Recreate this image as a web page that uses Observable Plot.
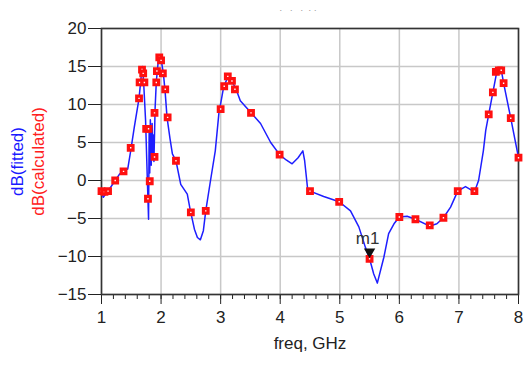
<!DOCTYPE html>
<html><head><meta charset="utf-8">
<script src="https://cdn.jsdelivr.net/npm/d3@7"></script>
<script src="https://cdn.jsdelivr.net/npm/@observablehq/plot@0.6"></script>
<style>body{margin:0;background:#fff;font-family:"Liberation Sans",Arial,sans-serif}</style>
</head><body><div id="chart"></div>
<script>
// fitted curve (blue line)
const fitFreq = [1.00,1.03,1.10,1.23,1.30,1.37,1.44,1.49,1.55,1.63,1.67,1.69,1.71,1.74,1.77,1.79,1.80,1.81,1.82,1.835,1.85,1.86,1.87,1.88,1.90,1.92,1.95,1.98,2.01,2.04,2.07,2.10,2.15,2.19,2.25,2.33,2.44,2.49,2.56,2.61,2.66,2.71,2.75,2.83,2.91,2.97,3.05,3.12,3.16,3.25,3.33,3.51,3.67,3.84,3.99,4.10,4.20,4.30,4.38,4.41,4.44,4.46,4.50,4.73,4.99,5.18,5.32,5.43,5.50,5.57,5.63,5.74,5.82,5.91,6.00,6.13,6.27,6.51,6.63,6.74,6.86,6.98,7.11,7.26,7.33,7.41,7.45,7.50,7.57,7.64,7.71,7.75,7.87,8.00];
const fitDB = [-1.5,-2.2,-1.5,0.0,0.8,1.3,1.5,3.9,7.0,10.8,14.0,15.0,12.5,7.9,0.0,-5.1,6.5,1.0,8.0,2.0,7.5,3.0,6.0,2.5,9.5,13.0,15.5,16.3,15.5,14.0,11.5,8.3,5.5,3.5,2.6,-0.5,-1.8,-3.9,-6.4,-7.5,-7.8,-6.6,-4.0,0.0,3.9,8.8,12.3,13.6,13.4,12.2,10.5,8.9,7.5,5.0,3.4,2.7,2.2,3.0,3.9,2.6,0.4,-1.1,-1.4,-2.1,-2.8,-4.0,-6.1,-8.8,-10.3,-12.3,-13.5,-10.1,-7.0,-5.7,-4.8,-4.7,-5.1,-6.0,-5.7,-4.9,-3.5,-1.4,-0.8,-1.5,0.0,3.9,6.6,8.7,11.6,14.5,14.6,12.8,8.2,3.0];
// calculated samples (red squares)
const calcFreq = [1.00,1.05,1.11,1.23,1.37,1.49,1.63,1.64,1.68,1.70,1.72,1.75,1.79,1.78,1.81,1.89,1.89,1.92,1.93,1.97,2.00,2.03,2.07,2.11,2.25,2.50,2.75,3.00,3.06,3.12,3.19,3.24,3.51,3.99,4.50,4.99,5.50,6.00,6.27,6.51,6.74,6.98,7.26,7.50,7.57,7.62,7.67,7.71,7.75,7.87,8.00];
const calcDB = [-1.4,-1.5,-1.4,0.0,1.2,4.3,10.8,12.9,14.6,14.1,12.9,6.8,6.8,-2.4,-0.1,3.1,8.9,12.9,14.4,16.2,15.8,14.1,12.0,8.3,2.6,-4.2,-4.0,9.4,12.4,13.7,13.1,12.0,8.9,3.4,-1.4,-2.8,-10.3,-4.8,-5.1,-5.9,-4.9,-1.4,-1.4,8.7,11.6,14.3,14.5,14.5,12.8,8.2,3.0];
// marker
const markerName = ["m1"];
const markerFreq = [5.5];
const markerDB = [-10.3];
// axes
const xTicks = [1,2,3,4,5,6,7,8];
const xMinor = d3.range(1, 8.001, 0.2).map(v => +v.toFixed(1));
const yTicks = [-15,-10,-5,0,5,10,15,20];

const fit = fitFreq.map((f,i) => ({f, v: fitDB[i]}));
const calc = calcFreq.map((f,i) => ({f, v: calcDB[i]}));
const markers = markerName.map((n,i) => ({n, f: markerFreq[i], v: markerDB[i]}));

const font = '"Liberation Sans", Arial, sans-serif';
const chart = Plot.plot({
  width: 524, height: 365,
  marginLeft: 101, marginRight: 6, marginTop: 28, marginBottom: 71,
  style: {fontFamily: font, fontSize: "17px", color: "#222", background: "#fff"},
  x: {domain: [1, 8]},
  y: {domain: [-15, 20]},
  marks: [
    Plot.gridX(xTicks, {stroke: "#c8c8c8", strokeOpacity: 1, strokeWidth: 1.5}),
    Plot.gridY(yTicks, {stroke: "#c8c8c8", strokeOpacity: 1, strokeWidth: 1.5}),
    Plot.axisX(xMinor, {tickSize: 5, text: null, stroke: "#222", label: null}),
    Plot.axisX(xTicks, {tickSize: 10, tickPadding: 6, stroke: "#222", fill: "#222", label: null, fontSize: 17}),
    Plot.axisY(yTicks, {tickSize: 13, tickPadding: 2, stroke: "#222", fill: "#222", label: null, fontSize: 17}),
    Plot.frame({stroke: "#333", strokeWidth: 1.6}),
    Plot.line(fit, {x: "f", y: "v", stroke: "#1e1eff", strokeWidth: 1.5}),
    Plot.dot(calc, {x: "f", y: "v", symbol: "square", r: 2.6, stroke: "#ff1010", strokeWidth: 3.2, fill: "#fff"}),
    Plot.dot(markers, {x: "f", y: "v", symbol: "triangle", rotate: 180, r: 4.2, fill: "#111", stroke: "none", dy: -7}),
    Plot.text(markers, {x: "f", y: "v", text: "n", dy: -20, dx: -2, fill: "#333", fontSize: 17}),
    Plot.text(["freq, GHz"], {frameAnchor: "bottom", dy: 54, fill: "#222", fontSize: 17}),
    Plot.text(["dB(fitted)"], {frameAnchor: "left", textAnchor: "middle", dx: -84, rotate: -90, fill: "#1a1aff", fontSize: 17}),
    Plot.text(["dB(calculated)"], {frameAnchor: "left", textAnchor: "middle", dx: -63, rotate: -90, fill: "#ff2020", fontSize: 17}),
    Plot.text(["·   ·   ·  · ·"], {frameAnchor: "top", dy: -22, dx: -12, fill: "#999", fontSize: 9})
  ]
});
document.getElementById("chart").appendChild(chart);
</script></body></html>
